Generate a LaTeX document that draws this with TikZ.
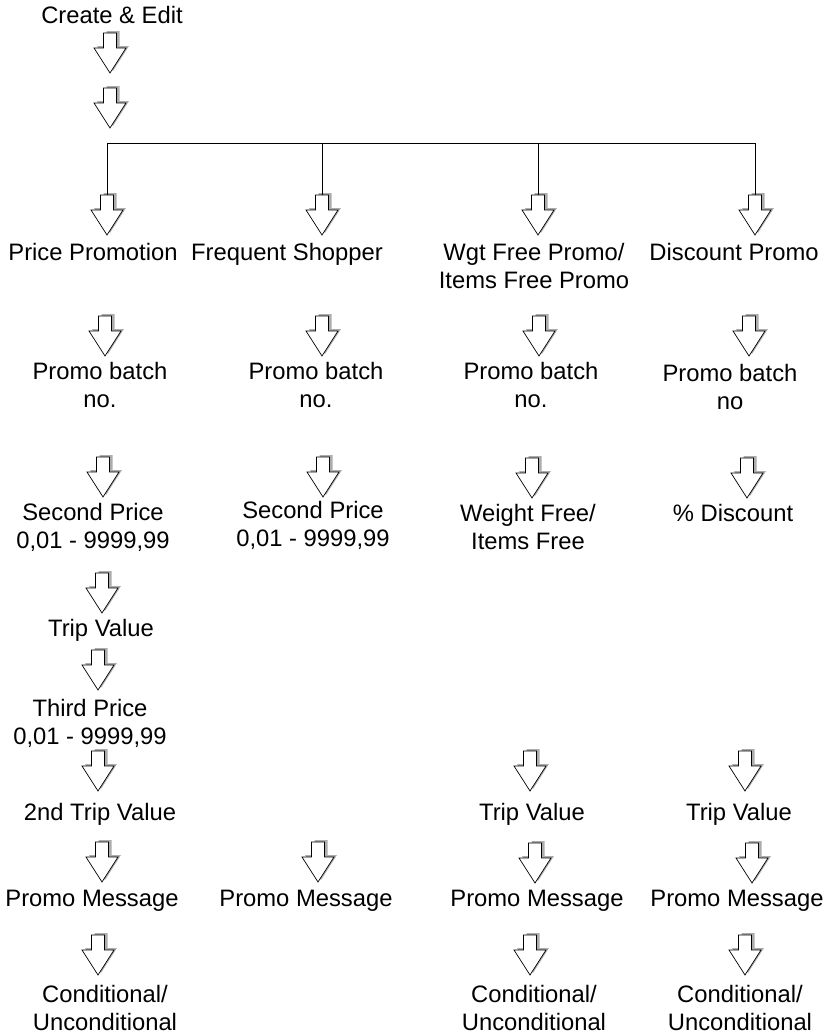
\documentclass[tikz,border=0pt]{standalone}
\usepackage{fontspec}
\setmainfont{Liberation Sans}

\tikzset{
  % hollow block arrow with a grey shadow, top of the shaft at the origin
  blockarrow/.pic={
    \fill[gray!65, shift={(3,-2)}] (-6.5,0) -- (6.5,0) -- (6.5,15) -- (16,15)
        -- (0,40) -- (-16,15) -- (-6.5,15) -- cycle;
    \draw[fill=white, line width=0.6pt] (-6.5,0) -- (6.5,0) -- (6.5,15) -- (16,15)
        -- (0,40) -- (-16,15) -- (-6.5,15) -- cycle;
    \coordinate (-top) at (0,0);
  },
  % base anchor sits on the last line
  lbl/.style={anchor=base, inner sep=0pt, align=center,
    font=\fontsize{20.3pt}{23.9pt}\selectfont},
}

\begin{document}
\begin{tikzpicture}[x=0.03cm, y=-0.03cm] % one unit is roughly one pixel

    \useasboundingbox (0,0) rectangle (829,1034);

    % Start
    \node[lbl] (create) at (112,23) {Create \& Edit};
    \pic (a0) at (110,33) {blockarrow};
    \pic (a00) at (110,88) {blockarrow};

    % Branch bar
    \coordinate (busL) at (107,143);
    \coordinate (busR) at (755,143);
    \draw[line width=0.7pt] (busL) -- (busR);

    % Arrows into the four promo types
    \pic (b1) at (107,195) {blockarrow};
    \pic (b2) at (322,195) {blockarrow};
    \pic (b3) at (538,195) {blockarrow};
    \pic (b4) at (755,195) {blockarrow};
    \draw[line width=0.7pt] (b1-top |- busL) -- (b1-top);
    \draw[line width=0.7pt] (b2-top |- busL) -- (b2-top);
    \draw[line width=0.7pt] (b3-top |- busL) -- (b3-top);
    \draw[line width=0.7pt] (b4-top |- busL) -- (b4-top);

    % Promo types
    \node[lbl] (price) at (93,260) {Price Promotion};
    \node[lbl] (freq) at (287,260) {Frequent Shopper};
    \node[lbl] (wgt) at (534,288) {Wgt Free Promo/\\Items Free Promo};
    \node[lbl] (disc) at (734,260) {Discount Promo};

    % Batch numbers
    \pic (c1) at (105,316) {blockarrow};
    \pic (c2) at (322,316) {blockarrow};
    \pic (c3) at (539,316) {blockarrow};
    \pic (c4) at (749,316) {blockarrow};
    \node[lbl] (batch1) at (100,407) {Promo batch\\no.};
    \node[lbl] (batch2) at (316,407) {Promo batch\\no.};
    \node[lbl] (batch3) at (531,407) {Promo batch\\no.};
    \node[lbl] (batch4) at (730,409) {Promo batch\\no};

    % Price / free / discount values
    \pic (d1) at (103,457) {blockarrow};
    \pic (d2) at (323,457) {blockarrow};
    \pic (d3) at (532,458) {blockarrow};
    \pic (d4) at (747,458) {blockarrow};
    \node[lbl] (second1) at (93,548) {Second Price\\0,01 - 9999,99};
    \node[lbl] (second2) at (313,546) {Second Price\\0,01 - 9999,99};
    \node[lbl] (wfree) at (528,549) {Weight Free/\\Items Free};
    \node[lbl] (pct) at (733,521) {\% Discount};

    % Price promotion only
    \pic (e1) at (102,573) {blockarrow};
    \node[lbl] (trip1) at (101,636) {Trip Value};
    \pic (f1) at (98,650) {blockarrow};
    \node[lbl] (third) at (90,744) {Third Price\\0,01 - 9999,99};

    % Trip values
    \pic (g1) at (98,751) {blockarrow};
    \pic (g3) at (530,751) {blockarrow};
    \pic (g4) at (745,751) {blockarrow};
    \node[lbl] (trip2) at (100,820) {2nd Trip Value};
    \node[lbl] (trip3) at (532,820) {Trip Value};
    \node[lbl] (trip4) at (739,820) {Trip Value};

    % Messages
    \pic (h1) at (102,842) {blockarrow};
    \pic (h2) at (318,842) {blockarrow};
    \pic (h3) at (535,843) {blockarrow};
    \pic (h4) at (752,843) {blockarrow};
    \node[lbl] (msg1) at (92,906) {Promo Message};
    \node[lbl] (msg2) at (306,906) {Promo Message};
    \node[lbl] (msg3) at (537,906) {Promo Message};
    \node[lbl] (msg4) at (737,906) {Promo Message};

    % Conditional flags
    \pic (k1) at (98,935) {blockarrow};
    \pic (k3) at (530,935) {blockarrow};
    \pic (k4) at (745,935) {blockarrow};
    \node[lbl] (cond1) at (105,1030) {Conditional/\\Unconditional};
    \node[lbl] (cond3) at (534,1030) {Conditional/\\Unconditional};
    \node[lbl] (cond4) at (740,1030) {Conditional/\\Unconditional};

\end{tikzpicture}
\end{document}
